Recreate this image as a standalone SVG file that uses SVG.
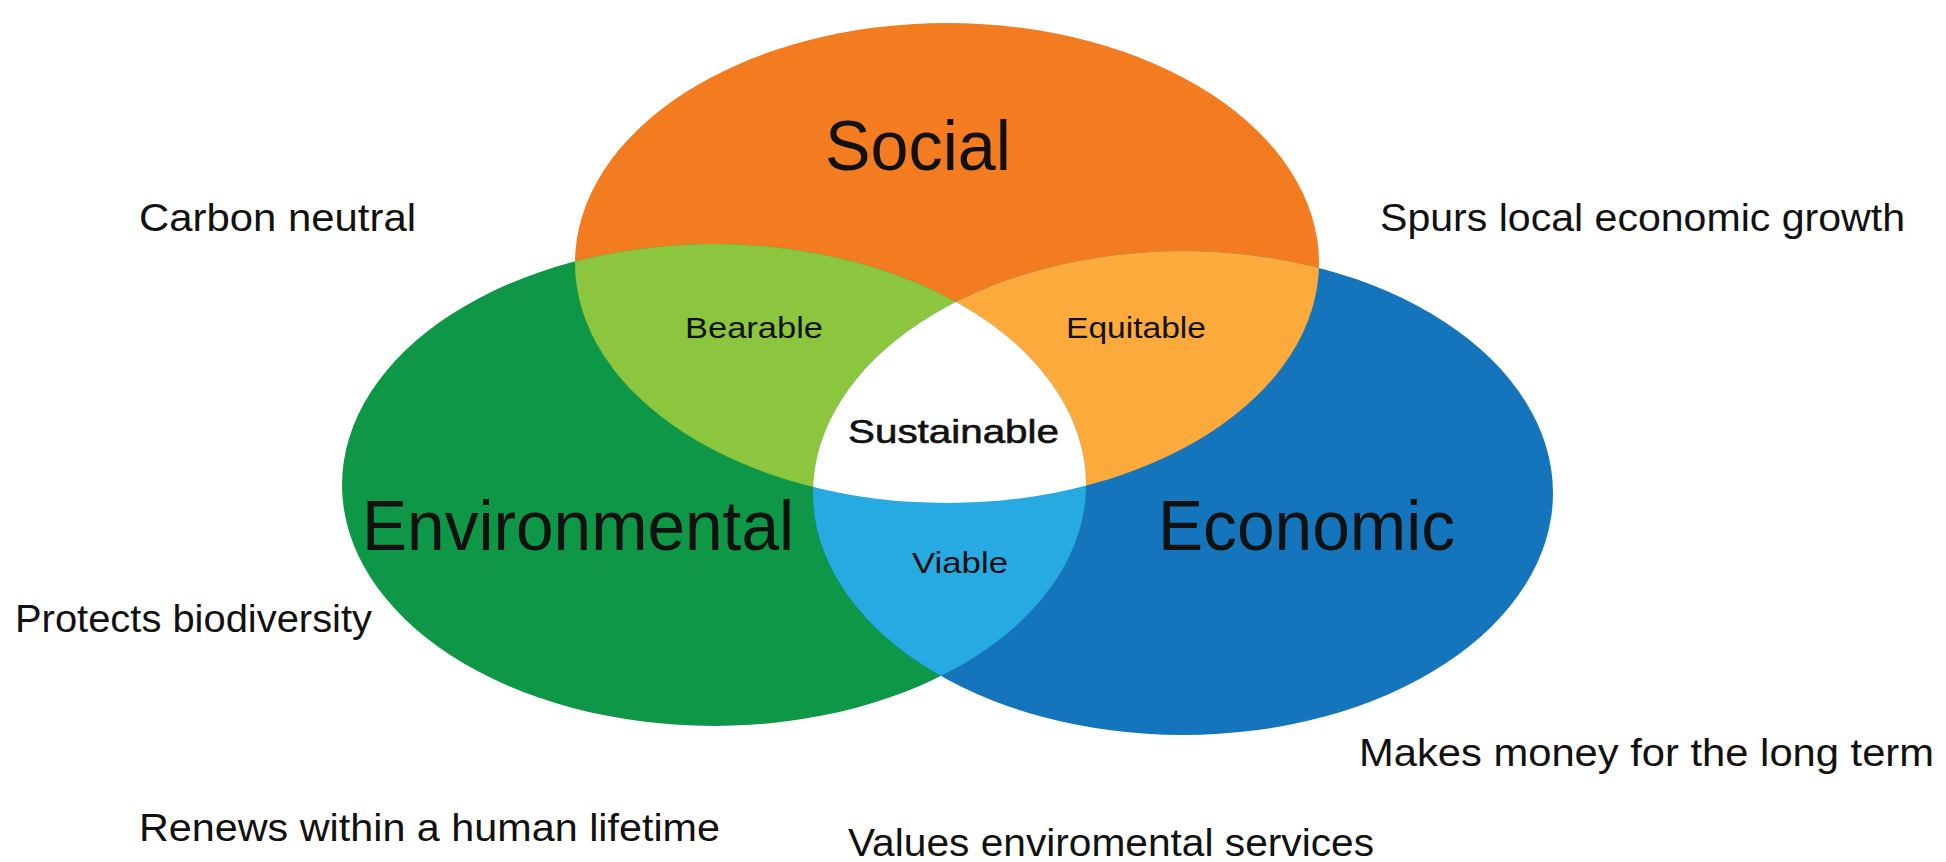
<svg xmlns="http://www.w3.org/2000/svg" width="1946" height="862" viewBox="0 0 1946 862">
<style>
text{font-family:"Liberation Sans","DejaVu Sans",sans-serif;fill:#111}
.big{font-size:70px}
.mid{font-size:30px}
.out{font-size:38px}
.sus{font-size:33px;stroke:#111;stroke-width:0.6}
</style>
<defs>
<clipPath id="cSoc"><ellipse cx="947" cy="263" rx="372" ry="240"/></clipPath>
<clipPath id="cEnv"><ellipse cx="714" cy="485" rx="372" ry="241"/></clipPath>
<clipPath id="cEco"><ellipse cx="1183" cy="493" rx="370" ry="242"/></clipPath>
</defs>
<rect width="1946" height="862" fill="#fff"/>
<g id="social"><ellipse cx="947" cy="263" rx="372" ry="240" fill="#F47C20"/></g>
<g id="environmental"><ellipse cx="714" cy="485" rx="372" ry="241" fill="#0E9747"/></g>
<g id="economic"><ellipse cx="1183" cy="493" rx="370" ry="242" fill="#1475BD"/></g>
<g id="bearable"><ellipse cx="714" cy="485" rx="372" ry="241" fill="#8CC63F" clip-path="url(#cSoc)"/></g>
<g id="equitable"><ellipse cx="1183" cy="493" rx="370" ry="242" fill="#FBAA3B" clip-path="url(#cSoc)"/></g>
<g id="viable"><ellipse cx="714" cy="485" rx="372" ry="241" fill="#27A9E1" clip-path="url(#cEco)"/></g>
<g id="sustainable"><g clip-path="url(#cSoc)"><ellipse cx="714" cy="485" rx="372" ry="241" fill="#fff" clip-path="url(#cEco)"/></g></g>
<g id="labels">
<text class="big" x="825" y="170" textLength="186" lengthAdjust="spacingAndGlyphs">Social</text>
<text class="big" x="362" y="550" textLength="432" lengthAdjust="spacingAndGlyphs">Environmental</text>
<text class="big" x="1158" y="550" textLength="297" lengthAdjust="spacingAndGlyphs">Economic</text>
<text class="mid" x="685" y="338" textLength="138" lengthAdjust="spacingAndGlyphs">Bearable</text>
<text class="mid" x="1066" y="338" textLength="140" lengthAdjust="spacingAndGlyphs">Equitable</text>
<text class="sus" x="848" y="443" textLength="211" lengthAdjust="spacingAndGlyphs">Sustainable</text>
<text class="mid" x="912" y="573" textLength="96" lengthAdjust="spacingAndGlyphs">Viable</text>
<text class="out" x="139" y="231" textLength="277" lengthAdjust="spacingAndGlyphs">Carbon neutral</text>
<text class="out" x="1380" y="231" textLength="525" lengthAdjust="spacingAndGlyphs">Spurs local economic growth</text>
<text class="out" x="15" y="632" textLength="357" lengthAdjust="spacingAndGlyphs">Protects biodiversity</text>
<text class="out" x="1359" y="766" textLength="575" lengthAdjust="spacingAndGlyphs">Makes money for the long term</text>
<text class="out" x="139" y="841" textLength="581" lengthAdjust="spacingAndGlyphs">Renews within a human lifetime</text>
<text class="out" x="848" y="856" textLength="526" lengthAdjust="spacingAndGlyphs">Values enviromental services</text>
</g>
</svg>
